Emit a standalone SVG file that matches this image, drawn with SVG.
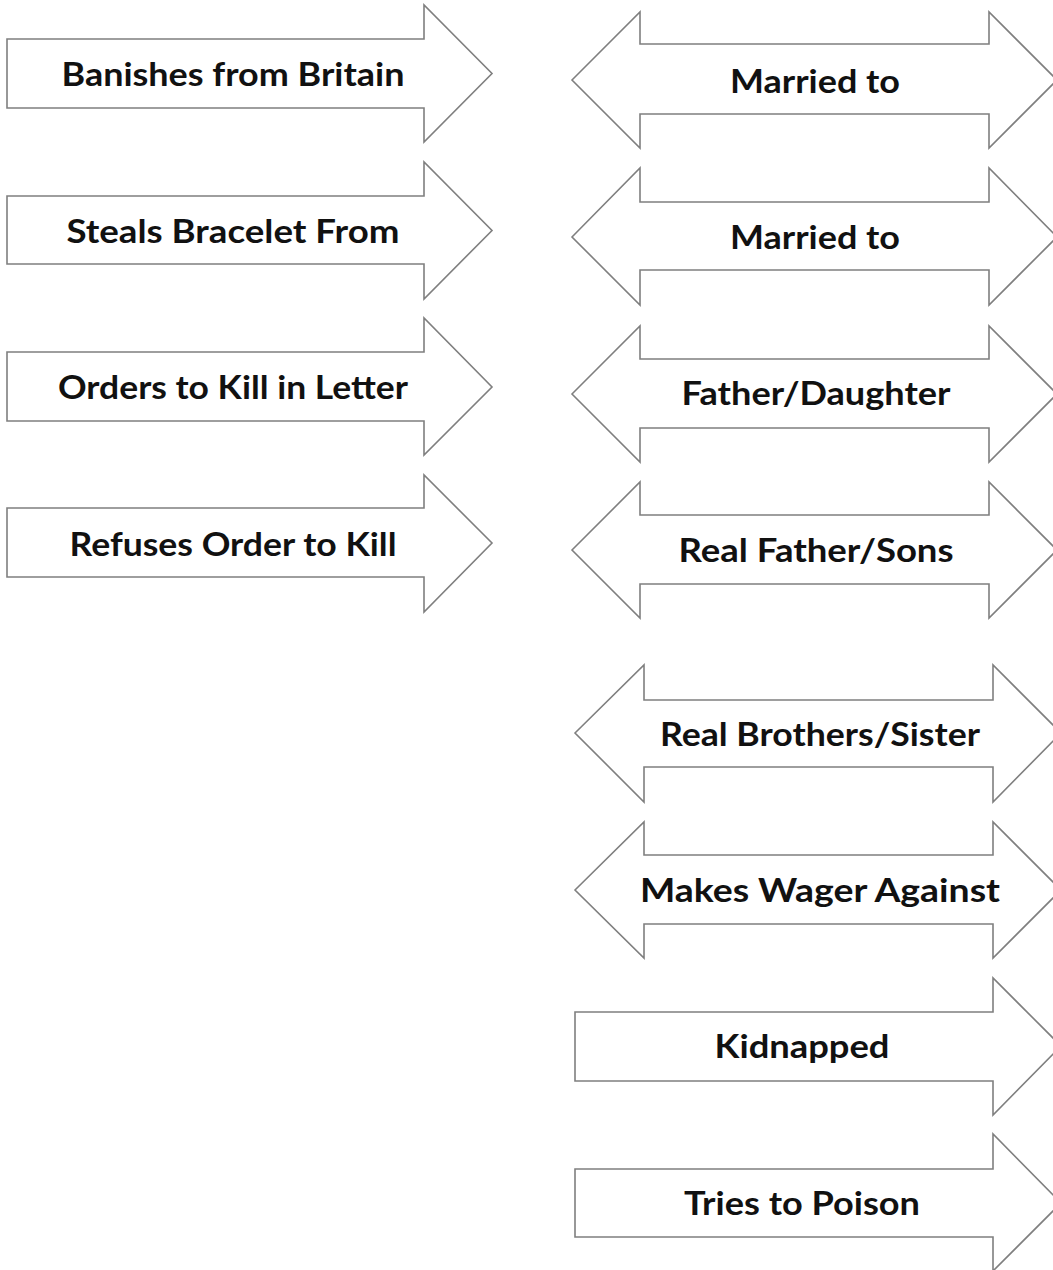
<svg xmlns="http://www.w3.org/2000/svg" width="1053" height="1270" viewBox="0 0 1053 1270">
<style>
.shape{fill:#ffffff;stroke:#7f7f7f;stroke-width:1.6;stroke-linejoin:miter}
.lbl{font-family:"Lato","Noto Sans","Liberation Sans",sans-serif;font-weight:700;font-size:33px;fill:#111111;text-anchor:middle}
</style>
<rect width="1053" height="1270" fill="#ffffff"/>
<g id="connectors"/>
<g id="n1">
<path class="shape" d="M7,39 H424 V5 L492,73.5 L424,142 V108 H7 Z"/>
<text class="lbl" x="233" y="86" textLength="343" lengthAdjust="spacingAndGlyphs">Banishes from Britain</text>
</g>
<g id="n2">
<path class="shape" d="M7,196 H424 V162 L492,230.5 L424,299 V264 H7 Z"/>
<text class="lbl" x="233" y="243" textLength="333" lengthAdjust="spacingAndGlyphs">Steals Bracelet From</text>
</g>
<g id="n3">
<path class="shape" d="M7,352 H424 V318 L492,387 L424,455 V421 H7 Z"/>
<text class="lbl" x="233" y="399" textLength="350" lengthAdjust="spacingAndGlyphs">Orders to Kill in Letter</text>
</g>
<g id="n4">
<path class="shape" d="M7,508 H424 V475 L492,543 L424,612 V577 H7 Z"/>
<text class="lbl" x="233" y="556" textLength="327" lengthAdjust="spacingAndGlyphs">Refuses Order to Kill</text>
</g>
<g id="n5">
<path class="shape" d="M572,80 L640,12 V44 H989 V12 L1057,80 L989,148 V114 H640 V148 Z"/>
<text class="lbl" x="815" y="93" textLength="170" lengthAdjust="spacingAndGlyphs">Married to</text>
</g>
<g id="n6">
<path class="shape" d="M572,237 L640,168 V202 H989 V168 L1057,237 L989,305 V270 H640 V305 Z"/>
<text class="lbl" x="815" y="249" textLength="170" lengthAdjust="spacingAndGlyphs">Married to</text>
</g>
<g id="n7">
<path class="shape" d="M572,394 L640,326 V359 H989 V326 L1057,394 L989,462 V428 H640 V462 Z"/>
<text class="lbl" x="816" y="405" textLength="269" lengthAdjust="spacingAndGlyphs">Father/Daughter</text>
</g>
<g id="n8">
<path class="shape" d="M572,550 L640,482 V515 H989 V482 L1057,550 L989,618 V584 H640 V618 Z"/>
<text class="lbl" x="816" y="562" textLength="275" lengthAdjust="spacingAndGlyphs">Real Father/Sons</text>
</g>
<g id="n9">
<path class="shape" d="M575,733 L644,665 V700 H993 V665 L1061,733 L993,802 V767 H644 V802 Z"/>
<text class="lbl" x="820" y="746" textLength="320" lengthAdjust="spacingAndGlyphs">Real Brothers/Sister</text>
</g>
<g id="n10">
<path class="shape" d="M575,890 L644,822 V855 H993 V822 L1061,890 L993,958 V924 H644 V958 Z"/>
<text class="lbl" x="820" y="902" textLength="360" lengthAdjust="spacingAndGlyphs">Makes Wager Against</text>
</g>
<g id="n11">
<path class="shape" d="M575,1012 H993 V978 L1061,1046 L993,1115 V1081 H575 Z"/>
<text class="lbl" x="802" y="1058" textLength="175" lengthAdjust="spacingAndGlyphs">Kidnapped</text>
</g>
<g id="n12">
<path class="shape" d="M575,1169 H993 V1134 L1061,1203 L993,1271 V1237 H575 Z"/>
<text class="lbl" x="802" y="1215" textLength="236" lengthAdjust="spacingAndGlyphs">Tries to Poison</text>
</g>
</svg>
